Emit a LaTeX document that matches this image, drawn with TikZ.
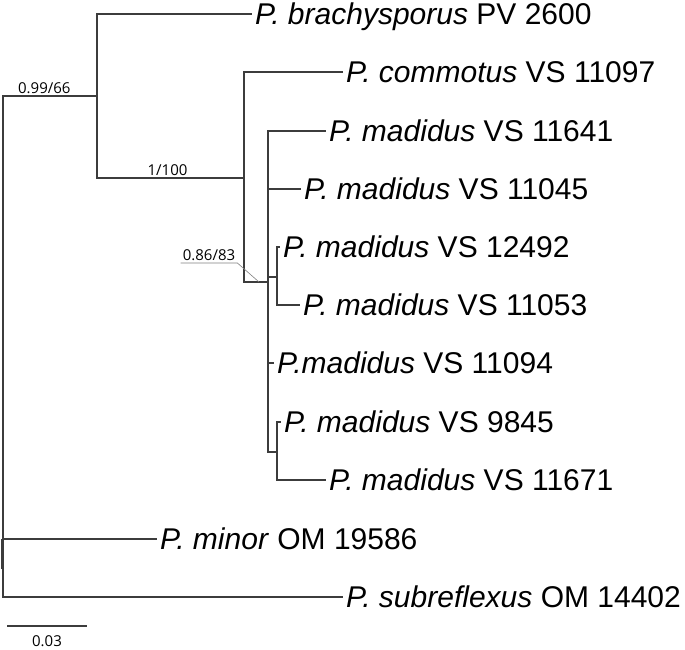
\documentclass[tikz,border=0pt]{standalone}
\usepackage{fontspec}
\setmainfont{Liberation Sans}
\newfontfamily\supportfont{Open Sans}
\usetikzlibrary{positioning,calc}
\definecolor{branchgray}{HTML}{3C3C3C}
\tikzset{%
branch/.style={draw=branchgray,line width=1.3pt},
stub/.style={draw=branchgray,line width=2.4pt},
leader/.style={draw=gray,line width=0.6pt},
taxon/.style={anchor=west,inner sep=3pt,text height=22pt,text depth=2pt,font=\fontsize{30}{36}\selectfont},
support/.style={font=\supportfont\fontsize{15}{18}\selectfont,inner sep=2pt}
}

\begin{document}
\begin{tikzpicture}[x=1pt,y=-1pt]
  \useasboundingbox (0,0) rectangle (685,649);

  % internal nodes
  \coordinate (root) at (3,569);
  \coordinate (rootstub) at (2,569);
  \coordinate (n1) at (97,96);
  \coordinate (n2) at (244,178);
  \coordinate (n3) at (268,282);
  \coordinate (n4) at (277,277);
  \coordinate (n5) at (277,452);
  \coordinate (tip) at (259,282);

  % taxa
  \node[taxon] (brachy) at (252,14) {\textit{P. brachysporus} PV 2600};
  \node[taxon] (commot) at (343,72) {\textit{P. commotus} VS 11097};
  \node[taxon] (mad11641) at (326,131) {\textit{P. madidus} VS 11641};
  \node[taxon] (mad11045) at (301,189) {\textit{P. madidus} VS 11045};
  \node[taxon] (mad12492) at (280,247) {\textit{P. madidus} VS 12492};
  \node[taxon] (mad11053) at (300,305) {\textit{P. madidus} VS 11053};
  \node[taxon] (mad11094) at (274,363) {\textit{P.madidus} VS 11094};
  \node[taxon] (mad9845) at (281,422) {\textit{P. madidus} VS 9845};
  \node[taxon] (mad11671) at (326,480) {\textit{P. madidus} VS 11671};
  \node[taxon] (minor) at (157,539) {\textit{P. minor} OM 19586};
  \node[taxon] (subrefl) at (343,597) {\textit{P. subreflexus} OM 14402};

  % branches
  \draw[branch] (root) |- (n1) node[pos=0.72,above,support] (sup1) {0.99/66};
  \draw[branch] (root) |- (minor.west);
  \draw[branch] (root) |- (subrefl.west);
  \draw[stub] (rootstub) -- (rootstub |- minor.west);

  \draw[branch] (n1) |- (brachy.west);
  \draw[branch] (n1) |- (n2) node[pos=0.74,above,support] (sup2) {1/100};

  \draw[branch] (n2) |- (commot.west);
  \draw[branch] (n2) |- (n3);

  \draw[branch] (n3) |- (mad11641.west);
  \draw[branch] (n3) |- (mad11045.west);
  \draw[branch] (n3) |- (n4);
  \draw[branch] (n3) |- (mad11094.west);
  \draw[branch] (n3) |- (n5);

  \draw[branch] (n4) |- (mad12492.west);
  \draw[branch] (n4) |- (mad11053.west);

  \draw[branch] (n5) |- (mad9845.west);
  \draw[branch] (n5) |- (mad11671.west);

  % support leader
  \node[support,anchor=south] (sup3) at (209,263) {0.86/83};
  \draw[leader] (sup3.south west) -- (sup3.south east) -- (tip);

  % scale bar
  \coordinate (barl) at (7,626);
  \coordinate (barr) at (87,626);
  \draw[branch] (barl) -- (barr) node[midway,below=7pt,support] (scale) {0.03};
\end{tikzpicture}
\end{document}
